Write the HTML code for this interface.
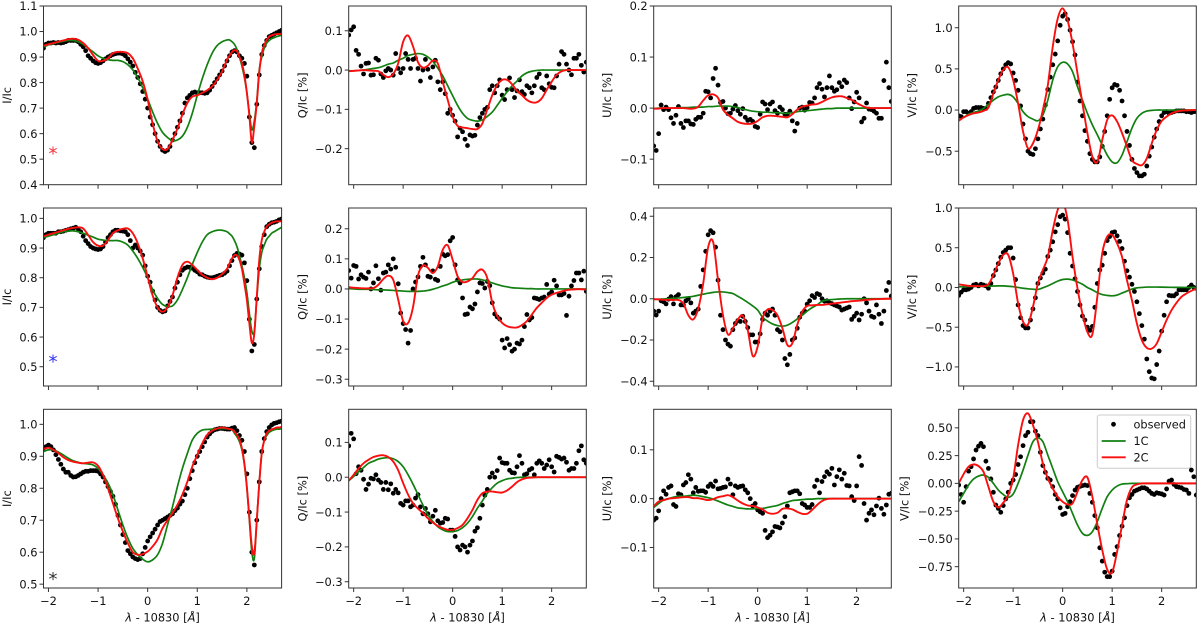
<!DOCTYPE html>
<html lang="en">
<head>
<meta charset="utf-8">
<title>Stokes profiles: observed, 1C and 2C fits</title>
<style>
html,body{margin:0;padding:0;background:#fff}
svg{display:block}
text{font-family:"DejaVu Sans","Liberation Sans",sans-serif;fill:#111}
</style>
</head>
<body>
<svg id="fig" xmlns="http://www.w3.org/2000/svg" width="1200" height="627" viewBox="0 0 1200 627"></svg>
<script>
const obsWave = [
-2.1,-2.05,-2,-1.95,-1.9,-1.85,-1.8,-1.75,-1.7,-1.65,
-1.6,-1.55,-1.5,-1.45,-1.4,-1.35,-1.3,-1.25,-1.2,-1.15,
-1.1,-1.05,-1,-0.95,-0.9,-0.85,-0.8,-0.75,-0.7,-0.65,
-0.6,-0.55,-0.5,-0.45,-0.4,-0.35,-0.3,-0.25,-0.2,-0.15,
-0.1,-0.05,0,0.05,0.1,0.15,0.2,0.25,0.3,0.35,
0.4,0.45,0.5,0.55,0.6,0.65,0.7,0.75,0.8,0.85,
0.9,0.95,1,1.05,1.1,1.15,1.2,1.25,1.3,1.35,
1.4,1.45,1.5,1.55,1.6,1.65,1.7,1.75,1.8,1.85,
1.9,1.95,2,2.05,2.1,2.15,2.2,2.25,2.3,2.35,
2.4,2.45,2.5,2.55,2.6,2.65,2.7];
const curveWave = [
-2.1,-2,-1.9,-1.8,-1.7,-1.6,-1.5,-1.4,-1.3,-1.2,
-1.1,-1,-0.9,-0.8,-0.7,-0.6,-0.5,-0.4,-0.3,-0.2,
-0.1,0,0.1,0.2,0.3,0.4,0.5,0.6,0.7,0.8,
0.9,1,1.1,1.2,1.3,1.4,1.5,1.6,1.7,1.8,
1.9,2,2.1,2.2,2.3,2.4,2.5,2.6,2.7];
const lineWave = [
-2.1,-2,-1.9,-1.8,-1.7,-1.6,-1.5,-1.4,-1.3,-1.2,
-1.1,-1,-0.9,-0.8,-0.7,-0.6,-0.5,-0.4,-0.3,-0.2,
-0.1,0,0.1,0.2,0.3,0.4,0.5,0.6,0.7,0.8,
0.9,1,1.1,1.2,1.3,1.4,1.5,1.6,1.65,1.7,
1.75,1.8,1.85,1.9,1.95,2,2.05,2.1,2.15,2.2,
2.25,2.3,2.35,2.4,2.45,2.5,2.55,2.6,2.65,2.7];

/* Row 1 */
const iObs1 = [
.935,.95,.955,.955,.957,.955,.957,.955,.957,.96,
.965,.965,.965,.965,.96,.95,.94,.925,.905,.895,
.885,.878,.875,.878,.885,.893,.90,.905,.91,.913,
.915,.915,.912,.905,.893,.88,.865,.84,.82,.795,
.765,.735,.70,.665,.635,.60,.57,.55,.535,.53,
.535,.55,.575,.60,.625,.65,.68,.72,.74,.75,
.76,.763,.76,.76,.76,.758,.76,.77,.785,.80,
.815,.83,.845,.865,.885,.905,.92,.925,.92,.905,
.895,.875,.825,.665,.565,.545,.715,.83,.91,.945,
.965,.98,.985,.99,.995,1,1.005];
const iGreen1 = [
.94,.948,.953,.958,.962,.965,.965,.96,.95,.935,
.92,.905,.895,.89,.887,.887,.882,.87,.85,.82,
.78,.735,.685,.64,.605,.585,.572,.575,.59,.625,
.68,.75,.815,.87,.915,.945,.96,.967,.967,.96,
.95,.93,.90,.865,.82,.76,.68,.615,.65,.73,
.85,.90,.935,.955,.965,.972,.976,.98,.983,.985];
const iRed1 = [
.945,.95,.955,.96,.965,.97,.972,.968,.955,.935,
.908,.885,.885,.895,.915,.92,.92,.915,.895,.855,
.805,.733,.64,.57,.54,.54,.575,.62,.675,.72,
.745,.75,.76,.77,.785,.81,.843,.89,.905,.92,
.927,.923,.90,.875,.83,.76,.67,.565,.63,.72,
.84,.915,.947,.967,.98,.985,.988,.99,.99,.99];

const qObs1 = [
.089,.102,.11,.05,.04,.01,-.01,.017,.018,-.013,
-.012,.03,.025,-.01,-.019,-.002,.004,0,-.013,.042,
.004,-.007,.004,.042,.027,.004,.027,.03,.004,-.028,
0,.027,.002,-.019,.008,.025,-.03,-.05,-.03,-.06,
-.11,-.1,-.115,-.13,-.17,-.148,-.157,-.176,-.192,-.165,
-.168,-.166,-.14,-.121,-.11,-.1,-.095,-.05,-.04,-.058,
-.04,-.025,-.064,-.075,-.05,-.02,-.05,-.07,-.053,-.025,
-.055,-.062,-.04,-.045,-.058,-.04,-.019,-.01,-.045,-.05,
-.015,-.035,-.044,-.045,-.015,.015,.047,.04,.015,0,
-.012,.03,.03,.04,.012,-.005,.02];
const qGreen1 = [
-.002,-.002,-.001,0,.002,.004,.006,.01,.015,.018,
.025,.03,.037,.04,.042,.04,.033,.022,.005,-.015,
-.04,-.065,-.09,-.11,-.123,-.128,-.13,-.127,-.118,-.107,
-.09,-.072,-.055,-.04,-.028,-.015,-.007,-.003,-.001,0,
0,0,0,0,0,0,0,0,0];
const qRed1 = [
-.003,-.002,-.001,0,-.001,-.002,-.003,-.012,-.018,-.01,
.017,.072,.088,.06,.02,.006,.011,.024,.017,-.03,
-.076,-.119,-.142,-.146,-.148,-.15,-.15,-.136,-.10,-.064,
-.038,-.025,-.025,-.036,-.053,-.064,-.076,-.082,-.082,-.072,
-.05,-.03,-.012,-.003,0,0,0,0,0];

const uObs1 = [
-.074,-.083,-.05,.006,-.003,.002,-.003,-.019,-.03,-.014,
.003,-.03,-.038,-.025,-.025,-.031,-.032,-.022,-.018,-.018,
-.01,.033,.032,.02,.058,.078,.045,.011,.013,0,
-.011,-.01,-.002,.005,-.005,-.012,-.001,-.018,-.024,-.022,
-.026,-.036,-.038,-.012,.012,.008,-.003,.008,.012,-.005,
-.01,.002,-.003,-.012,-.012,-.006,-.025,-.045,-.03,0,
.002,-.004,.001,.011,.01,.02,.04,.048,.037,.022,
.04,.063,.04,.033,.036,.05,.042,.055,.05,.02,
-.001,.012,.031,.02,-.027,-.02,.01,-.002,-.003,-.006,
-.01,-.02,-.02,.054,.09,.04,.013];
const uGreen1 = [
-.001,0,0,0,0,.001,.001,.001,.002,.002,
.002,.003,.003,.004,.004,.004,.003,.001,-.002,-.004,
-.006,-.007,-.008,-.008,-.009,-.009,-.01,-.01,-.009,-.007,
-.006,-.005,-.004,-.003,-.002,-.001,-.001,0,0,0,
0,0,0,0,0,0,0,0,0];
const uRed1 = [
-.001,-.001,0,0,0,0,0,-.001,-.001,.003,
.015,.025,.027,.02,-.003,-.013,-.02,-.027,-.03,-.031,
-.03,-.025,-.018,-.015,-.015,-.016,-.017,-.018,-.012,-.003,
.003,.005,.007,.008,.012,.017,.021,.023,.023,.02,
.016,.01,.005,.001,0,0,0,0,0];

const vObs1 = [
-.07,-.08,-.02,-.02,-.04,-.02,.02,.03,.03,.03,
.02,.02,.08,.15,.22,.28,.36,.44,.5,.55,
.575,.56,.45,.36,.24,.05,-.17,-.35,-.5,-.53,
-.54,-.47,-.35,-.23,-.11,.06,.25,.4,.55,.68,
.84,1.03,1.14,1.17,1.1,.97,.83,.67,.34,.11,
-.07,-.25,-.38,-.53,-.6,-.63,-.63,-.57,-.44,-.26,
-.07,.13,.27,.31,.3,.24,.11,-.07,-.26,-.43,
-.6,-.71,-.76,-.8,-.8,-.78,-.68,-.56,-.45,-.33,
-.23,-.14,-.07,-.03,-.02,-.04,-.03,-.02,-.01,-.01,
-.01,-.01,-.02,-.02,-.03,-.02,-.02];
const vGreen1 = [
-.12,-.09,-.05,-.03,-.012,.02,.07,.12,.16,.18,
.19,.16,.08,-.02,-.08,-.11,-.13,-.06,.12,.365,
.526,.58,.56,.465,.283,.12,-.04,-.18,-.30,-.425,
-.547,-.63,-.64,-.547,-.385,-.22,-.10,-.04,-.012,-.004,
0,0,0,0,0,0,0,0,0];
const vRed1 = [
-.13,-.09,-.06,-.04,-.03,-.01,.03,.2,.365,.486,
.52,.365,.08,-.26,-.465,-.405,-.243,0,.30,.77,
1.11,1.235,1.09,.81,.445,.08,-.28,-.567,-.63,-.365,
-.12,-.065,-.14,-.28,-.445,-.61,-.655,-.67,-.587,-.405,
-.243,-.134,-.08,-.04,-.02,-.008,-.004,-.001,0];

/* Row 2 */
const iObs2 = [
.935,.945,.95,.95,.95,.95,.955,.955,.957,.96,
.962,.965,.967,.97,.965,.955,.94,.925,.915,.905,
.90,.897,.895,.897,.905,.92,.935,.945,.955,.96,
.96,.958,.957,.955,.945,.925,.90,.91,.90,.89,
.876,.84,.805,.785,.755,.725,.70,.69,.685,.688,
.705,.72,.735,.765,.785,.81,.825,.832,.836,.835,
.832,.825,.82,.812,.81,.805,.802,.80,.80,.802,
.805,.808,.81,.815,.822,.84,.858,.875,.882,.88,
.876,.85,.79,.66,.553,.575,.728,.83,.905,.945,
.972,.98,.985,.987,.99,.995,.998];
const iGreen2 = [
.935,.94,.945,.95,.955,.957,.958,.955,.95,.943,
.937,.93,.927,.925,.925,.925,.92,.91,.89,.865,
.835,.80,.76,.73,.71,.703,.705,.725,.76,.80,
.845,.885,.92,.945,.955,.96,.96,.955,.948,.94,
.925,.905,.875,.84,.80,.75,.68,.62,.62,.73,
.83,.885,.91,.93,.94,.95,.955,.96,.965,.97];
const iRed2 = [
.94,.945,.95,.955,.96,.965,.968,.97,.966,.944,
.92,.908,.908,.927,.95,.96,.965,.966,.95,.916,
.865,.803,.74,.70,.685,.70,.74,.80,.843,.854,
.843,.826,.81,.80,.795,.80,.812,.83,.848,.865,
.876,.876,.86,.83,.78,.725,.646,.58,.612,.736,
.86,.927,.955,.972,.98,.985,.988,.99,.99,.99];

const qObs2 = [
.061,.036,.078,.075,.033,.047,.039,.035,.056,0,
.02,.077,.034,-.004,.053,.056,.08,.066,.1,.072,
.017,-.08,-.115,-.135,-.18,-.138,0,.023,.04,.075,
.105,.08,.042,.039,.06,.032,.028,.075,.116,.11,
.114,.16,.171,.08,.03,.02,-.03,-.085,-.083,-.06,
-.066,-.05,-.01,.02,.018,.003,.025,.011,-.046,-.083,
-.093,-.1,-.17,-.196,-.165,-.185,-.207,-.2,-.18,-.183,
-.17,-.125,-.085,-.103,-.095,-.03,-.032,-.035,-.03,-.027,
.015,-.017,-.01,.029,.01,-.02,-.02,-.015,-.088,-.024,
.01,.028,.053,.053,.03,.059,-.008];
const qGreen2 = [
.001,0,-.001,-.001,-.001,-.002,-.003,-.003,-.004,-.005,
-.006,-.007,-.008,-.008,-.008,-.007,-.005,-.001,.004,.01,
.015,.022,.027,.03,.032,.033,.033,.03,.026,.02,
.015,.01,.007,.004,.003,.002,.001,.001,0,0,
0,0,0,0,0,0,0,0,0];
const qRed2 = [
.006,.004,.003,.002,.002,.003,.014,.033,.044,.03,
-.035,-.107,-.113,-.06,.045,.078,.07,.053,.075,.13,
.145,.097,.042,.023,.025,.036,.058,.064,.036,-.046,
-.09,-.113,-.124,-.128,-.128,-.12,-.107,-.085,-.063,-.046,
-.03,-.019,-.013,-.008,-.004,-.002,-.001,-.001,-.002];

const uObs2 = [
-.06,-.079,-.06,-.01,-.015,-.025,-.002,.01,-.025,.01,
.02,-.03,-.03,-.01,0,-.02,-.07,-.06,-.05,.06,
.14,.23,.31,.33,.32,.25,.09,-.08,-.15,-.2,
-.22,-.23,-.15,-.12,-.106,-.11,-.085,-.11,-.14,-.175,
-.175,-.21,-.21,-.17,-.1,-.07,-.08,-.06,-.05,-.08,
-.15,-.16,-.2,-.29,-.32,-.27,-.2,-.19,-.143,-.09,
-.07,-.06,-.026,-.01,.015,.006,.025,.02,0,-.012,
-.01,-.02,-.024,-.03,-.035,-.04,-.055,-.05,-.045,-.04,
-.1,-.085,-.07,-.103,-.075,0,-.02,-.06,-.085,-.09,
-.03,-.075,-.12,-.06,.04,.079,.013];
const uGreen2 = [
-.003,-.002,-.001,0,.002,.004,.006,.009,.012,.017,
.022,.027,.031,.033,.033,.03,.025,.012,-.002,-.018,
-.035,-.055,-.09,-.108,-.122,-.13,-.133,-.128,-.115,-.098,
-.08,-.06,-.043,-.03,-.012,-.006,-.004,-.002,-.001,0,
0,0,0,0,0,0,0,0,0];
const uRed2 = [
-.002,-.003,-.005,-.005,-.006,-.006,-.023,-.08,-.10,-.047,
.074,.25,.276,.09,-.08,-.173,-.143,-.10,-.082,-.152,
-.277,-.232,-.095,-.052,-.055,-.08,-.143,-.224,-.216,-.127,
-.063,-.035,-.032,-.03,-.03,-.027,-.024,-.021,-.018,-.015,
-.012,-.01,-.008,-.005,-.003,-.002,-.001,0,0];

const vObs2 = [
-.1,-.06,-.03,-.03,-.02,0,.03,.04,.02,.04,
.03,.02,-.01,.05,.15,.22,.3,.38,.44,.47,
.5,.5,.37,.1,-.22,-.38,-.48,-.51,-.51,-.41,
-.27,-.13,.05,.12,.18,.23,.39,.47,.575,.7,
.79,.89,.91,.86,.69,.43,.27,.11,-.05,-.22,
-.36,-.41,-.5,-.54,-.49,-.25,.05,.22,.28,.43,
.59,.64,.69,.7,.65,.58,.49,.33,.21,.13,
.04,-.05,-.18,-.33,-.48,-.65,-.9,-1.06,-1.14,-1.15,
-.97,-.8,-.55,-.35,-.18,-.1,-.105,-.105,-.08,-.03,
-.03,-.03,-.03,0,.03,0,-.01];
const vGreen2 = [
.008,.01,.012,.013,.014,.015,.016,.018,.02,.02,
.015,.01,0,-.01,-.017,-.022,-.025,-.005,.02,.05,
.08,.1,.105,.095,.07,.04,0,-.03,-.065,-.09,
-.1,-.105,-.095,-.07,-.045,-.02,-.005,0,.005,.005,
.005,.004,.003,.002,.001,.001,0,0,0];
const vRed2 = [
.04,.03,.02,.017,.017,.017,.04,.155,.30,.41,
.41,.175,-.2,-.43,-.466,-.244,.05,.22,.385,.72,
.975,1.08,.85,.385,-.013,-.33,-.56,-.59,-.12,.43,
.64,.66,.555,.385,.09,-.16,-.454,-.664,-.76,-.77,
-.706,-.56,-.41,-.286,-.193,-.118,-.076,-.042,-.017];

/* Row 3 */
const iObs3 = [
.925,.93,.935,.93,.92,.905,.89,.875,.86,.85,
.85,.84,.835,.836,.84,.845,.85,.853,.853,.855,
.855,.855,.853,.845,.835,.82,.805,.79,.775,.75,
.715,.685,.655,.63,.605,.595,.585,.58,.577,.58,
.595,.615,.635,.648,.66,.672,.685,.696,.70,.705,
.71,.715,.72,.73,.738,.75,.76,.78,.80,.83,
.855,.88,.9,.915,.93,.945,.96,.97,.978,.983,
.985,.987,.987,.986,.985,.985,.988,.99,.98,.965,
.95,.915,.845,.725,.6,.56,.70,.82,.915,.955,
.977,.99,.998,1.003,1.005,1.008,1.01];
const iGreen3 = [
.915,.92,.92,.913,.904,.894,.886,.881,.878,.876,
.873,.862,.842,.816,.78,.732,.685,.644,.612,.592,
.578,.57,.576,.592,.628,.685,.742,.805,.862,.909,
.951,.972,.982,.984,.985,.986,.987,.986,.985,.984,
.972,.961,.946,.92,.873,.80,.70,.60,.58,.70,
.82,.91,.95,.965,.975,.98,.983,.985,.985,.986];
const iRed3 = [
.923,.927,.92,.91,.897,.888,.883,.88,.878,.88,
.881,.87,.842,.80,.753,.706,.665,.628,.60,.592,
.594,.602,.618,.64,.675,.70,.722,.748,.78,.82,
.868,.904,.94,.967,.98,.987,.99,.987,.985,.984,
.977,.967,.953,.925,.878,.805,.71,.618,.597,.70,
.815,.909,.95,.972,.98,.984,.987,.99,.99,.992];

const qObs3 = [
.09,.126,.11,.01,.03,.02,-.006,-.035,-.02,-.003,
-.005,.007,-.008,-.015,-.035,-.015,-.036,-.019,-.046,-.035,
-.045,-.075,-.08,-.068,-.068,-.085,-.08,-.06,-.05,-.085,
-.105,-.09,-.105,-.128,-.112,-.095,-.125,-.132,-.13,-.118,
-.12,-.152,-.152,-.17,-.2,-.209,-.195,-.2,-.215,-.195,
-.183,-.155,-.145,-.118,-.08,-.052,-.035,0,.012,0,
.019,.055,.042,.04,.04,.02,.013,.012,.03,.062,
.04,.007,.01,.021,.025,.007,.04,.047,.04,.025,
.035,.05,.03,.015,.06,.057,.052,.055,.043,.02,
.025,.025,.04,.076,.09,.05,.04];
const qGreen3 = [
-.01,.002,.016,.028,.04,.046,.052,.055,.056,.053,
.045,.03,.007,-.02,-.05,-.08,-.108,-.127,-.142,-.151,
-.156,-.156,-.153,-.145,-.132,-.113,-.089,-.068,-.046,-.03,
-.017,-.01,-.005,-.003,-.001,0,0,0,0,0,
0,0,0,0,0,0,0,0,0];
const qRed3 = [
-.01,.007,.025,.04,.05,.058,.062,.063,.058,.045,
.02,-.017,-.05,-.075,-.09,-.103,-.118,-.13,-.14,-.146,
-.151,-.151,-.146,-.137,-.118,-.094,-.065,-.046,-.041,-.041,
-.043,-.044,-.038,-.027,-.014,-.006,-.002,-.001,0,0,
0,0,0,0,0,0,0,0,0];

const uObs3 = [
-.044,-.04,-.025,0,.016,.009,.023,.026,-.012,-.016,
.01,.008,.028,.033,.049,.04,.012,.023,.015,.016,
.016,.013,.025,.03,.025,.036,.02,.021,.023,.024,
.04,.03,.008,.026,.023,.025,.026,.018,.012,0,
-.015,-.01,-.023,-.027,-.03,-.065,-.08,-.075,-.068,-.057,
-.058,-.06,-.05,-.037,-.015,.012,.014,.016,.016,.01,
-.01,-.013,-.018,-.018,-.012,.025,.038,.012,.035,.045,
.055,.05,.062,.028,.045,.059,.04,.052,.027,.026,
.004,-.004,.026,.086,.068,-.01,-.044,-.03,-.023,-.033,
-.015,.001,-.02,-.032,-.013,.009,.011];
const uGreen3 = [
-.018,-.01,-.003,0,.003,.005,.005,.006,.007,.006,
.004,.002,-.001,-.005,-.009,-.013,-.016,-.019,-.02,-.021,
-.021,-.02,-.02,-.018,-.016,-.014,-.01,-.007,-.004,-.003,
-.002,-.001,-.001,0,0,0,0,0,0,0,
0,0,0,0,0,0,0,0,0];
const uRed3 = [
-.016,-.006,-.003,0,.001,.002,.003,.003,.001,.001,
-.001,-.003,-.001,.003,.005,.007,.003,-.004,-.01,-.014,
-.015,-.018,-.022,-.029,-.031,-.029,-.021,-.02,-.022,-.027,
-.031,-.031,-.023,-.013,-.005,-.001,0,0,0,0,
0,0,0,0,0,0,0,0,0];

const vObs3 = [
-.015,-.1,-.17,-.03,.11,.15,.22,.3,.335,.36,
.33,.2,.135,.04,-.08,-.195,-.225,-.26,-.2,-.14,
-.08,0,.03,.08,.17,.24,.34,.43,.46,.555,
.555,.47,.43,.28,.16,.1,.045,.03,-.03,-.1,
-.14,-.22,-.28,-.27,-.21,-.165,-.11,-.06,-.035,-.027,
-.02,-.015,-.02,-.09,-.17,-.29,-.4,-.58,-.7,-.8,
-.84,-.84,-.79,-.64,-.57,-.47,-.385,-.31,-.2,-.13,
-.1,-.07,-.06,-.05,-.04,-.04,-.05,-.07,-.09,-.1,
-.085,-.09,-.095,-.105,-.05,.02,.03,-.01,-.03,-.035,
-.04,-.055,-.06,-.09,.12,.06,-.105];
const vGreen3 = [
-.165,-.09,-.015,.039,.066,.075,.054,0,-.06,-.1,
-.126,-.096,0,.12,.255,.375,.41,.375,.255,.135,
.015,-.075,-.165,-.27,-.375,-.45,-.468,-.435,-.345,-.225,
-.12,-.06,-.024,-.006,-.003,0,0,0,0,0,
0,0,0,0,0,0,0,0,0];
const vRed3 = [
0,.084,.15,.171,.156,.105,-.03,-.165,-.216,-.174,
-.105,.045,.345,.57,.63,.525,.375,.18,.045,-.045,
-.12,-.165,-.19,-.18,-.075,.03,.054,-.12,-.366,-.6,
-.775,-.80,-.615,-.375,-.15,-.036,-.009,0,0,0,
0,0,0,0,0,0,0,0,0];

/* Tick values */
const xTicks = [-2,-1,0,1,2];
const iTicks1 = [0.4,0.5,0.6,0.7,0.8,0.9,1.0,1.1];
const qTicks1 = [-0.2,-0.1,0,0.1];
const uTicks1 = [-0.1,0,0.1,0.2];
const vTicks1 = [-0.5,0,0.5,1.0];
const iTicks2 = [0.5,0.6,0.7,0.8,0.9,1.0];
const qTicks2 = [-0.3,-0.2,-0.1,0,0.1,0.2];
const uTicks2 = [-0.4,-0.2,0,0.2,0.4];
const vTicks2 = [-1.0,-0.5,0,0.5,1.0];
const iTicks3 = [0.5,0.6,0.7,0.8,0.9,1.0];
const qTicks3 = [-0.3,-0.2,-0.1,0,0.1];
const uTicks3 = [-0.1,0,0.1];
const vTicks3 = [-0.75,-0.5,-0.25,0,0.25,0.5];

/* Axis limits and layout */
const xLimits = [-2.1, 2.7];
const colBounds = [[43.5,281.6],[348.7,586.3],[653.7,891.3],[958.7,1196.3]];
const rowBounds = [[6,184.7],[208,386],[409.3,588]];

const panels = [
 {row:0,col:0,name:'i-panel-row-1',label:'I/Ic',labelX:11,ylim:[.4,1.1],ticks:iTicks1,dec:1,wave:lineWave,obs:iObs1,green:iGreen1,red:iRed1,mark:'#f0303a'},
 {row:0,col:1,name:'q-panel-row-1',label:'Q/Ic [%]',labelX:306.5,ylim:[-.2917,.163],ticks:qTicks1,dec:1,wave:curveWave,obs:qObs1,green:qGreen1,red:qRed1},
 {row:0,col:2,name:'u-panel-row-1',label:'U/Ic [%]',labelX:611,ylim:[-.15,.2],ticks:uTicks1,dec:1,wave:curveWave,obs:uObs1,green:uGreen1,red:uRed1},
 {row:0,col:3,name:'v-panel-row-1',label:'V/Ic [%]',labelX:916,ylim:[-.907,1.264],ticks:vTicks1,dec:1,wave:curveWave,obs:vObs1,green:vGreen1,red:vRed1},
 {row:1,col:0,name:'i-panel-row-2',label:'I/Ic',labelX:11,ylim:[.435,1.035],ticks:iTicks2,dec:1,wave:lineWave,obs:iObs2,green:iGreen2,red:iRed2,mark:'#3030f0'},
 {row:1,col:1,name:'q-panel-row-2',label:'Q/Ic [%]',labelX:306.5,ylim:[-.3225,.269],ticks:qTicks2,dec:1,wave:curveWave,obs:qObs2,green:qGreen2,red:qRed2},
 {row:1,col:2,name:'u-panel-row-2',label:'U/Ic [%]',labelX:611,ylim:[-.423,.44],ticks:uTicks2,dec:1,wave:curveWave,obs:uObs2,green:uGreen2,red:uRed2},
 {row:1,col:3,name:'v-panel-row-2',label:'V/Ic [%]',labelX:916,ylim:[-1.24,1.0],ticks:vTicks2,dec:1,wave:curveWave,obs:vObs2,green:vGreen2,red:vRed2},
 {row:2,col:0,name:'i-panel-row-3',label:'I/Ic',labelX:11,ylim:[.488,1.047],ticks:iTicks3,dec:1,wave:lineWave,obs:iObs3,green:iGreen3,red:iRed3,mark:'#333333'},
 {row:2,col:1,name:'q-panel-row-3',label:'Q/Ic [%]',labelX:306.5,ylim:[-.318,.195],ticks:qTicks3,dec:1,wave:curveWave,obs:qObs3,green:qGreen3,red:qRed3},
 {row:2,col:2,name:'u-panel-row-3',label:'U/Ic [%]',labelX:611,ylim:[-.183,.183],ticks:uTicks3,dec:1,wave:curveWave,obs:uObs3,green:uGreen3,red:uRed3},
 {row:2,col:3,name:'v-panel-row-3',label:'V/Ic [%]',labelX:908.5,ylim:[-.942,.667],ticks:vTicks3,dec:2,wave:curveWave,obs:vObs3,green:vGreen3,red:vRed3}
];

const SVG_NS = 'http://www.w3.org/2000/svg';
const fig = document.getElementById('fig');
function make(tag, attrs, parent){
  const n = document.createElementNS(SVG_NS, tag);
  for (const k in attrs) n.setAttribute(k, attrs[k]);
  parent.appendChild(n);
  return n;
}
function linear(d0,d1,r0,r1){ return v => r0 + (v-d0)/(d1-d0)*(r1-r0); }
function smoothPath(xs, ys, sx, sy){
  const p = xs.map((x,i)=>[sx(x), sy(ys[i])]);
  let d = 'M' + p[0][0].toFixed(2) + ' ' + p[0][1].toFixed(2);
  for (let i=0;i<p.length-1;i++){
    const a=p[Math.max(i-1,0)], b=p[i], c=p[i+1], e=p[Math.min(i+2,p.length-1)];
    const c1x=b[0]+(c[0]-a[0])/6, c1y=b[1]+(c[1]-a[1])/6;
    const c2x=c[0]-(e[0]-b[0])/6, c2y=c[1]-(e[1]-b[1])/6;
    d += 'C'+c1x.toFixed(2)+' '+c1y.toFixed(2)+' '+c2x.toFixed(2)+' '+c2y.toFixed(2)+' '+c[0].toFixed(2)+' '+c[1].toFixed(2);
  }
  return d;
}
function fmt(v, dec){ return v.toFixed(dec).replace('-', '\u2212'); }

panels.forEach((pn, idx) => {
  const [x0,x1] = colBounds[pn.col];
  const [y0,y1] = rowBounds[pn.row];
  const sx = linear(xLimits[0], xLimits[1], x0, x1);
  const sy = linear(pn.ylim[0], pn.ylim[1], y1, y0);

  const g = make('g', {}, fig);
  
  

  const clip = make('clipPath', {id:'clip'+idx}, g);
  make('rect', {x:x0,y:y0,width:x1-x0,height:y1-y0}, clip);

  const plot = make('g', {'clip-path':'url(#clip'+idx+')'}, g);
  
  

  pn.obs.forEach((v,i) => {
    const dot = make('circle', {cx:sx(obsWave[i]).toFixed(2), cy:sy(v).toFixed(2), r:2.4, fill:'#000'}, plot);
    
    
  });

  const gl = make('path', {d:smoothPath(pn.wave,pn.green,sx,sy), fill:'none', stroke:'#118011', 'stroke-width':1.7, 'stroke-linejoin':'round'}, plot);
  
  

  const rl = make('path', {d:smoothPath(pn.wave,pn.red,sx,sy), fill:'none', stroke:'#fa0f0f', 'stroke-width':1.9, 'stroke-linejoin':'round'}, plot);
  
  

  const frame = make('rect', {x:x0,y:y0,width:x1-x0,height:y1-y0,fill:'none',stroke:'#333','stroke-width':1}, g);
  
  

  xTicks.forEach(t => {
    const tk = make('line', {x1:sx(t),x2:sx(t),y1:y1,y2:y1+4,stroke:'#333','stroke-width':1}, g);
    
    
    if (pn.row === 2){
      const lab = make('text', {x:sx(t),y:605,'text-anchor':'middle','font-size':11.4}, g);
      lab.textContent = fmt(t,0);
      
      
    }
  });

  pn.ticks.forEach(t => {
    const tk = make('line', {x1:x0-4,x2:x0,y1:sy(t),y2:sy(t),stroke:'#333','stroke-width':1}, g);
    
    
    const lab = make('text', {x:x0-6,y:sy(t)+4.2,'text-anchor':'end','font-size':11.4}, g);
    lab.textContent = fmt(t,pn.dec);
    
    
  });

  const yl = make('text', {transform:'translate('+pn.labelX+','+((y0+y1)/2)+') rotate(-90)','text-anchor':'middle','font-size':11.4}, g);
  yl.textContent = pn.label;
  
  

  if (pn.row === 2){
    const xl = make('text', {x:(x0+x1)/2,y:621.5,'text-anchor':'middle','font-size':11.4}, g);
    
    
    const lam = make('tspan', {'font-style':'italic'}, xl);
    lam.textContent = '\u03bb';
    const mid = make('tspan', {}, xl);
    mid.textContent = ' - 10830 [';
    const ang = make('tspan', {'font-style':'italic'}, xl);
    ang.textContent = '\u00c5';
    const end = make('tspan', {}, xl);
    end.textContent = ']';
  }

  if (pn.mark){
    const markY = y0 + (pn.row === 0 ? 153.5 : pn.row === 1 ? 159.5 : 175.5);
    const star = make('text', {x:53,y:markY,'text-anchor':'middle','font-size':18,style:'fill:'+pn.mark}, g);
    star.textContent = '*';
    
    
  }
});

/* Legend */
const legend = make('g', {}, fig);


make('rect', {x:1097.3,y:415,width:93.4,height:53.3,rx:2.5,fill:'#fff','fill-opacity':.8,stroke:'#ccc','stroke-width':1}, legend);

const legendDot = make('circle', {cx:1113.5,cy:424.3,r:2.4,fill:'#000'}, legend);


const legendObs = make('text', {x:1133.5,y:428.5,'font-size':11.3}, legend);
legendObs.textContent = 'observed';



const legendGreen = make('line', {x1:1101.7,x2:1125.7,y1:441,y2:441,stroke:'#118011','stroke-width':1.7}, legend);


const legend1c = make('text', {x:1133.5,y:445.2,'font-size':11.3}, legend);
legend1c.textContent = '1C';



const legendRed = make('line', {x1:1101.7,x2:1125.7,y1:457.3,y2:457.3,stroke:'#fa0f0f','stroke-width':1.9}, legend);


const legend2c = make('text', {x:1133.5,y:461.5,'font-size':11.3}, legend);
legend2c.textContent = '2C';


</script>
</body>
</html>
